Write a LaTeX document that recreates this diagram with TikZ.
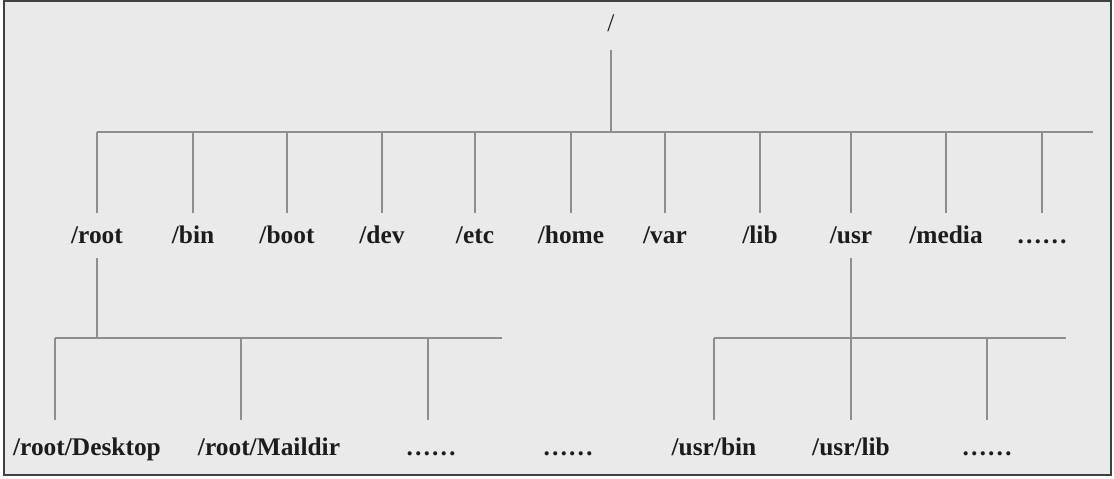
\documentclass[tikz,border=0pt]{standalone}
\usepackage{fontspec}
\setmainfont{Liberation Serif}
\usepackage{xcolor}
\usepackage{tikz}
\definecolor{bgcol}{HTML}{EAEAEA}
\definecolor{linecol}{HTML}{8E8E8E}
\definecolor{textcol}{HTML}{1C1C1C}
\tikzset{
    branch/.style={draw=linecol, line width=0.8pt},
    dirbox/.style={anchor=base, inner sep=0pt, text height=15pt, text depth=7.5pt, text=textcol, font=\bfseries\fontsize{12.7}{15}\selectfont},
    leafbox/.style={dirbox, text height=17.5pt}
}

\begin{document}
\begin{tikzpicture}[x=0.5pt, y=-0.5pt]
    \useasboundingbox (0,0) rectangle (1114,478);
    \draw [fill=bgcol, draw=black!75, line width=0.8pt] (4,1) rectangle (1111,475);
    % top level
    \node (top) [dirbox, font=\fontsize{12.7}{15}\selectfont, text depth=9.5pt] at (611,31) {/};
    \coordinate (barL) at (97,132);
    \coordinate (barR) at (1093,132);
    \node (root) [dirbox] at (97,243) {/root};
    \node (bin) [dirbox] at (193,243) {/bin};
    \node (boot) [dirbox] at (287,243) {/boot};
    \node (dev) [dirbox] at (382,243) {/dev};
    \node (etc) [dirbox] at (475,243) {/etc};
    \node (home) [dirbox] at (571,243) {/home};
    \node (var) [dirbox] at (665,243) {/var};
    \node (lib) [dirbox] at (760,243) {/lib};
    \node (usr) [dirbox] at (851,243) {/usr};
    \node (media) [dirbox] at (946,243) {/media};
    \node (more) [dirbox] at (1042,243) {……};
    \draw [branch] (top.south) -- (top.south |- barL);
    \draw [branch] (barL) -- (barR);
    \draw [branch] (root.north |- barL) -- (root.north);
    \draw [branch] (bin.north |- barL) -- (bin.north);
    \draw [branch] (boot.north |- barL) -- (boot.north);
    \draw [branch] (dev.north |- barL) -- (dev.north);
    \draw [branch] (etc.north |- barL) -- (etc.north);
    \draw [branch] (home.north |- barL) -- (home.north);
    \draw [branch] (var.north |- barL) -- (var.north);
    \draw [branch] (lib.north |- barL) -- (lib.north);
    \draw [branch] (usr.north |- barL) -- (usr.north);
    \draw [branch] (media.north |- barL) -- (media.north);
    \draw [branch] (more.north |- barL) -- (more.north);
    % under /root
    \coordinate (s1) at (55,338);
    \coordinate (s2) at (241,338);
    \coordinate (s3) at (428,338);
    \coordinate (sR) at (502,338);
    \node (desk) [leafbox] at (87,455) {/root/Desktop};
    \node (mail) [leafbox] at (269,455) {/root/Maildir};
    \node (rmore) [leafbox] at (431,455) {……};
    \node (gap) [leafbox] at (568,455) {……};
    \draw [branch] (root.south) -- (root.south |- s1);
    \draw [branch] (s1) -- (sR);
    \draw [branch] (s1) -- (s1 |- desk.north);
    \draw [branch] (s2) -- (s2 |- mail.north);
    \draw [branch] (s3) -- (s3 |- rmore.north);
    % under /usr
    \coordinate (u1) at (714,338);
    \coordinate (uR) at (1066,338);
    \node (ubin) [leafbox] at (714,455) {/usr/bin};
    \node (ulib) [leafbox] at (851,455) {/usr/lib};
    \node (umore) [leafbox] at (987,455) {……};
    \draw [branch] (usr.south) -- (usr.south |- u1);
    \draw [branch] (u1) -- (uR);
    \draw [branch] (ubin.north |- u1) -- (ubin.north);
    \draw [branch] (ulib.north |- u1) -- (ulib.north);
    \draw [branch] (umore.north |- u1) -- (umore.north);
\end{tikzpicture}
\end{document}
